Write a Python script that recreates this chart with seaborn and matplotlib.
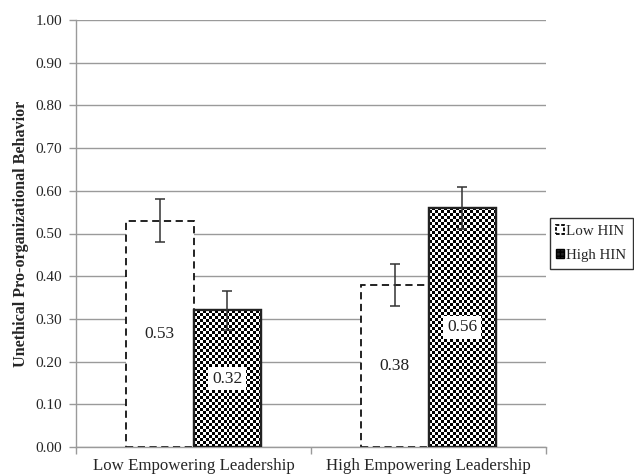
import numpy as np
import pandas as pd
import matplotlib
matplotlib.use("Agg")
import matplotlib.pyplot as plt
from matplotlib.patches import Patch
import seaborn as sns

# Data
leadership = ["Low Empowering Leadership", "High Empowering Leadership"]
hin_levels = ["Low HIN", "High HIN"]
low_hin_means = [0.53, 0.38]
high_hin_means = [0.32, 0.56]
low_hin_err = [0.05, 0.049]
high_hin_err = [0.046, 0.05]
y_ticks = [0.0, 0.1, 0.2, 0.3, 0.4, 0.5, 0.6, 0.7, 0.8, 0.9, 1.0]

df = pd.DataFrame({
    "Leadership": leadership * 2,
    "HIN": [hin_levels[0]] * 2 + [hin_levels[1]] * 2,
    "UPB": low_hin_means + high_hin_means,
    "err": low_hin_err + high_hin_err,
})

sns.set_style("white")
plt.rcParams["font.family"] = ["Liberation Serif", "DejaVu Serif"]

fig = plt.figure(figsize=(6.34, 4.75), dpi=100)
ax = fig.add_axes([76 / 634, 1 - 447 / 475, 470 / 634, 427 / 475])

sns.barplot(data=df, x="Leadership", y="UPB", hue="HIN", order=leadership,
            hue_order=hin_levels, errorbar=None, width=0.575, gap=0,
            palette=["white", "white"], legend=False, ax=ax, zorder=2)

ax.set_xlim(-0.5, 1.5)
ax.set_ylim(0, 1.0)

grey = "#9a9a9a"
ax.set_yticks(y_ticks)
ax.set_yticklabels([f"{v:.2f}" for v in y_ticks], fontsize=11)
ax.yaxis.grid(True, color=grey, linewidth=1.0, zorder=0)
ax.set_axisbelow(True)
ax.tick_params(axis="y", direction="out", length=5, width=1, color=grey, pad=5, left=True)
ax.set_xticks([0, 1])
ax.set_xticklabels(leadership, fontsize=12.2)
ax.tick_params(axis="x", length=0, pad=8)
ax.set_xticks([-0.5, 0.5, 1.5], minor=True)
ax.tick_params(axis="x", which="minor", direction="out", length=5, width=1, color=grey, bottom=True)
for s in ["top", "right"]:
    ax.spines[s].set_visible(False)
for s in ["left", "bottom"]:
    ax.spines[s].set_color(grey)
    ax.spines[s].set_linewidth(1.0)
ax.set_xlabel("")
ax.set_ylabel("Unethical Pro-organizational Behavior", fontsize=11.6,
              fontweight="bold", labelpad=5)

low_bars, high_bars = ax.containers[0], ax.containers[1]

# Low HIN: white bars with dashed outline
for p in low_bars:
    p.set_facecolor("white")
    p.set_edgecolor("#111111")
    p.set_linewidth(1.3)
    p.set_linestyle((0, (4, 2.5)))

# High HIN: checkerboard texture clipped to each bar
cell_px = 3.0
px_per_x = 470 / 2.0
px_per_y = 427 / 1.0
for p in high_bars:
    x0, w, h = p.get_x(), p.get_width(), p.get_height()
    ncols = max(1, int(round(w * px_per_x / cell_px)))
    nrows = max(1, int(round(h * px_per_y / cell_px)))
    checker = (np.add.outer(np.arange(nrows), np.arange(ncols)) % 2).astype(float)
    im = ax.imshow(checker, cmap="gray", vmin=0, vmax=1, extent=(x0, x0 + w, 0, h),
                   origin="lower", interpolation="nearest", aspect="auto", zorder=2.5)
    im.set_clip_path(p)
    p.set_facecolor("white")
    p.set_edgecolor("#222222")
    p.set_linewidth(1.6)
    p.set_zorder(2)
    edge = plt.Rectangle((x0, 0), w, h, fill=False, edgecolor="#222222",
                         linewidth=1.6, zorder=3)
    ax.add_patch(edge)

ax.set_xlim(-0.5, 1.5)
ax.set_ylim(0, 1.0)

# Error bars and value labels
for bars, means, errs, boxed in [(low_bars, low_hin_means, low_hin_err, False),
                                 (high_bars, high_hin_means, high_hin_err, True)]:
    for p, m, e in zip(bars, means, errs):
        cx = p.get_x() + p.get_width() / 2
        ax.errorbar(cx, m, yerr=e, fmt="none", ecolor="#333333", elinewidth=1.1,
                    capsize=3.5, capthick=1.1, zorder=4)
        kw = dict(ha="center", va="center", fontsize=12.5, color="#222222", zorder=5)
        if boxed:
            kw["bbox"] = dict(boxstyle="square,pad=0.22", facecolor="white", edgecolor="none")
        ax.text(cx, m / 2, f"{m:.2f}", **kw)

handles = [
    Patch(facecolor="white", edgecolor="black", linestyle=(0, (2, 1)), linewidth=1.3,
          label=hin_levels[0]),
    Patch(facecolor="#222222", edgecolor="black", hatch="++++", linewidth=1,
          label=hin_levels[1]),
]
leg = fig.legend(handles=handles, loc="upper right", bbox_to_anchor=(633 / 634, 1 - 218 / 475),
                 frameon=True, fancybox=False, edgecolor="black", fontsize=10.8,
                 handlelength=0.5, handleheight=0.5, handletextpad=0.15,
                 borderpad=0.45, labelspacing=0.75, borderaxespad=0)
leg.get_frame().set_linewidth(1.0)

fig.savefig("out.png", dpi=100)
